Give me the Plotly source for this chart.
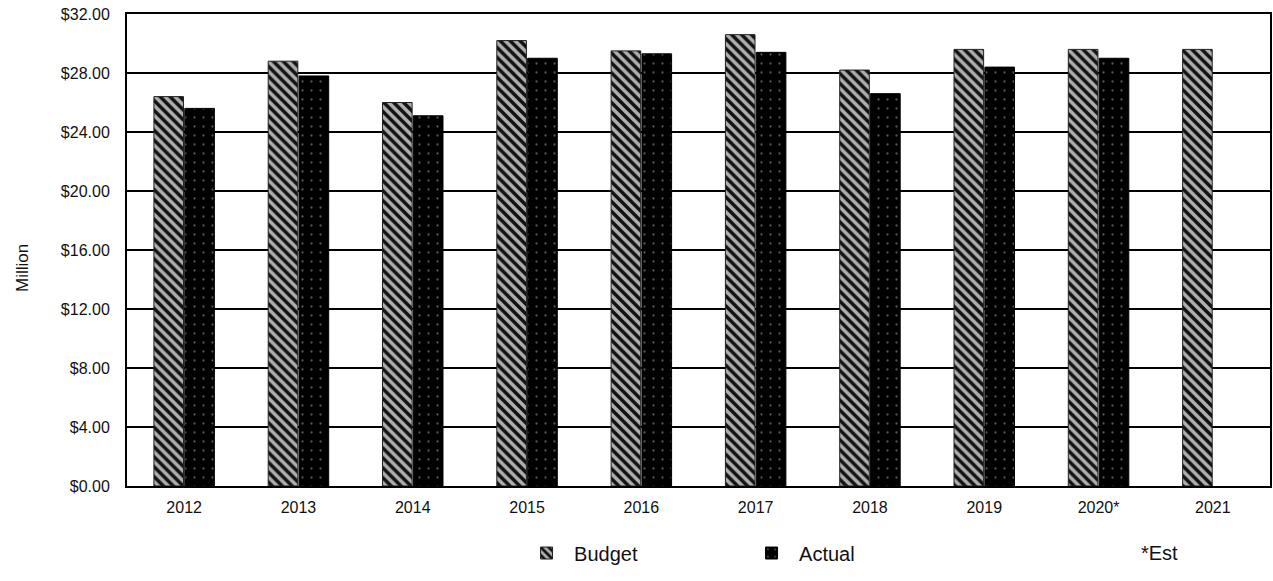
import plotly.graph_objects as go

years = ["2012", "2013", "2014", "2015", "2016", "2017", "2018", "2019", "2020*", "2021"]
budget = [26.4, 28.8, 26.0, 30.2, 29.5, 30.6, 28.2, 29.6, 29.6, 29.6]
actual = [25.6, 27.8, 25.1, 29.0, 29.3, 29.4, 26.6, 28.4, 29.0, None]
y_ticks = [0, 4, 8, 12, 16, 20, 24, 28, 32]

font_family = "Liberation Sans, Arial, sans-serif"

fig = go.Figure()
fig.add_trace(go.Bar(
    name="Budget",
    x=years,
    y=budget,
    marker=dict(
        color="#9a9a9a",
        line=dict(color="#222", width=1),
        pattern=dict(shape="\\", fgcolor="#111", bgcolor="#b0b0b0",
                     size=7, solidity=0.5, fillmode="replace"),
    ),
))
fig.add_trace(go.Bar(
    name="Actual",
    x=years,
    y=actual,
    marker=dict(
        color="#000",
        line=dict(color="#000", width=1),
        pattern=dict(shape=".", fgcolor="#555", bgcolor="#000",
                     size=9, solidity=0.05, fillmode="replace"),
    ),
))

fig.update_layout(
    width=1273,
    height=581,
    barmode="group",
    bargap=0.46,
    bargroupgap=0.04,
    plot_bgcolor="white",
    paper_bgcolor="white",
    margin=dict(l=127, r=1, t=14, b=95),
    font=dict(family=font_family, color="#111", size=16),
    showlegend=True,
    legend=dict(
        orientation="h",
        x=0.343, xanchor="left",
        y=-0.142, yanchor="middle",
        entrywidth=165,
        itemwidth=45,
        font=dict(size=20, family=font_family),
        traceorder="normal",
    ),
    annotations=[
        dict(text="*Est", xref="paper", yref="paper", x=0.885, y=-0.142,
             xanchor="left", yanchor="middle", showarrow=False,
             font=dict(size=20, family=font_family)),
        dict(text="Million", xref="paper", yref="paper", x=-0.091, y=0.462,
             xanchor="center", yanchor="middle", showarrow=False, textangle=-90,
             font=dict(size=17, family=font_family)),
    ],
)

fig.update_xaxes(
    showline=True, mirror=True, linecolor="#000", linewidth=2,
    ticks="", tickfont=dict(size=16),
    ticklabelstandoff=6,
    showgrid=False,
)
fig.update_yaxes(
    range=[0, 32],
    tickvals=y_ticks,
    tickformat="$.2f",
    tickfont=dict(size=16),
    ticklabelstandoff=12,
    showgrid=True, gridcolor="#000", gridwidth=1.5,
    showline=True, mirror=True, linecolor="#000", linewidth=2,
    zeroline=False,
)

fig.write_html("out.html")
